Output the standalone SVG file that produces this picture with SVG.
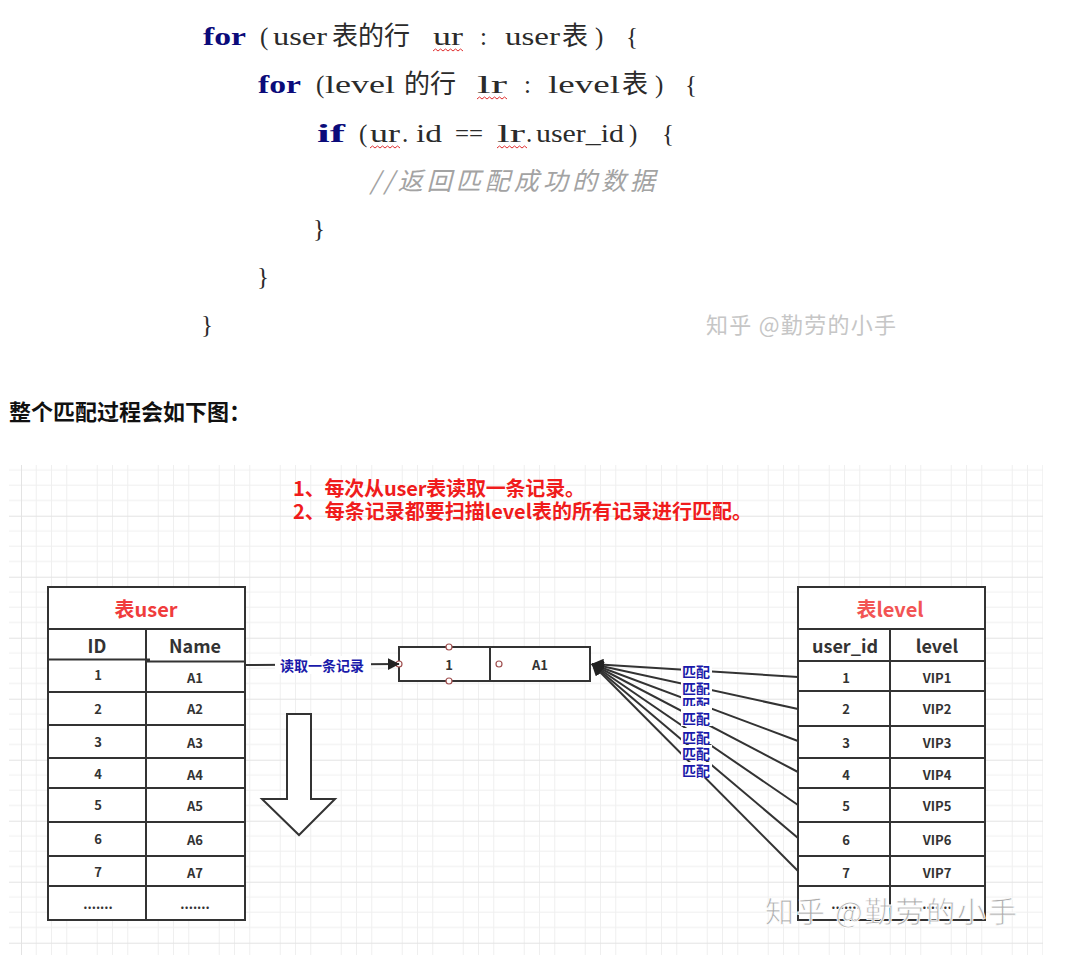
<svg xmlns="http://www.w3.org/2000/svg" width="1080" height="959" viewBox="0 0 1080 959">
<style>
.code{font-family:"Liberation Serif","Noto Sans CJK SC",serif;font-size:25px;fill:#2b2b2b}
.kw{font-weight:bold;fill:#0b0b7a}
.cjk{font-family:"Noto Sans CJK SC",sans-serif;font-size:26px;fill:#2b2b2b}
.cmt{font-family:"Noto Sans CJK SC",sans-serif;font-size:25px;font-style:italic;fill:#a3a3a3}
.wavy{fill:none;stroke:#e03030;stroke-width:1}
.sans{font-family:"Noto Sans CJK SC","Noto Sans",sans-serif}
.tbl{fill:none;stroke:#333;stroke-width:2}
.ttl{font-family:"Noto Sans CJK SC",sans-serif;font-size:20px;font-weight:bold;fill:#f03c3c;text-anchor:middle;dominant-baseline:central}
.hdr{font-family:"Noto Sans CJK SC",sans-serif;font-size:18px;font-weight:bold;fill:#333;text-anchor:middle;dominant-baseline:central}
.cell{font-family:"Noto Sans CJK SC",sans-serif;font-size:13px;font-weight:bold;fill:#333;text-anchor:middle;dominant-baseline:central}
.lbl{font-family:"Noto Sans CJK SC",sans-serif;font-size:14px;font-weight:bold;fill:#1a1aaa;text-anchor:middle;dominant-baseline:central}
.conn{fill:none;stroke:#333;stroke-width:2}
.pt{fill:#fff;stroke:#a05050;stroke-width:1.2}
</style>
<defs>
<pattern id="grid" patternUnits="userSpaceOnUse" x="21" y="454.7" width="61" height="61">
<path d="M15.25 0V61M30.5 0V61M45.75 0V61M0 15.25H61M0 30.5H61M0 45.75H61" stroke="#efefef" stroke-width="1" fill="none"/>
<path d="M0.5 0V61M0 0.5H61" stroke="#e3e3e3" stroke-width="1" fill="none"/>
</pattern>
<marker id="arr" viewBox="0 0 10 10" markerWidth="12" markerHeight="12" refX="9.5" refY="5" orient="auto" markerUnits="userSpaceOnUse">
<path d="M0,0 L10,5 L0,10 z" fill="#222"/>
</marker>
</defs>
<rect width="1080" height="959" fill="#fff"/>

<g id="code">
<text class="code kw" x="203" y="45" textLength="43" lengthAdjust="spacingAndGlyphs">for</text>
<text class="code" x="260" y="45">(</text>
<text class="code" x="273" y="45" textLength="54" lengthAdjust="spacingAndGlyphs">user</text>
<text class="cjk" x="332" y="45">表的行</text>
<text class="code" x="433" y="45" textLength="30" lengthAdjust="spacingAndGlyphs">ur</text>
<text class="code" x="480" y="45">:</text>
<text class="code" x="505" y="45" textLength="55" lengthAdjust="spacingAndGlyphs">user</text>
<text class="cjk" x="562" y="45">表</text>
<text class="code" x="595" y="45">)</text>
<text class="code" x="626" y="45">{</text>
<path class="wavy" d="M433 51l2.5 -2l2.5 2l2.5 -2l2.5 2l2.5 -2l2.5 2l2.5 -2l2.5 2l2.5 -2l2.5 2l2.5 -2l2.5 2"/>

<text class="code kw" x="258" y="93" textLength="43" lengthAdjust="spacingAndGlyphs">for</text>
<text class="code" x="316" y="93">(</text>
<text class="code" x="325" y="93" textLength="70" lengthAdjust="spacingAndGlyphs">level</text>
<text class="cjk" x="404" y="93">的行</text>
<text class="code" x="477" y="93" textLength="30" lengthAdjust="spacingAndGlyphs">lr</text>
<text class="code" x="524" y="93">:</text>
<text class="code" x="548" y="93" textLength="72" lengthAdjust="spacingAndGlyphs">level</text>
<text class="cjk" x="622" y="93">表</text>
<text class="code" x="655" y="93">)</text>
<text class="code" x="685" y="93">{</text>
<path class="wavy" d="M477 99l2.5 -2l2.5 2l2.5 -2l2.5 2l2.5 -2l2.5 2l2.5 -2l2.5 2l2.5 -2l2.5 2l2.5 -2l2.5 2"/>

<text class="code kw" x="317" y="142" textLength="28" lengthAdjust="spacingAndGlyphs">if</text>
<text class="code" x="359" y="142">(</text>
<text class="code" x="370" y="142" textLength="30" lengthAdjust="spacingAndGlyphs">ur</text>
<text class="code" x="402" y="142">.</text>
<text class="code" x="416" y="142" textLength="26" lengthAdjust="spacingAndGlyphs">id</text>
<text class="code" x="455" y="142" textLength="28" lengthAdjust="spacingAndGlyphs">==</text>
<text class="code" x="497" y="142" textLength="28" lengthAdjust="spacingAndGlyphs">lr</text>
<text class="code" x="526" y="142">.</text>
<text class="code" x="536" y="142" textLength="88" lengthAdjust="spacingAndGlyphs">user_id</text>
<text class="code" x="629" y="142">)</text>
<text class="code" x="662" y="142">{</text>
<path class="wavy" d="M370 148l2.5 -2l2.5 2l2.5 -2l2.5 2l2.5 -2l2.5 2l2.5 -2l2.5 2l2.5 -2l2.5 2l2.5 -2l2.5 2"/>
<path class="wavy" d="M497 148l2.5 -2l2.5 2l2.5 -2l2.5 2l2.5 -2l2.5 2l2.5 -2l2.5 2l2.5 -2l2.5 2l2.5 -2l2.5 2"/>

<text class="cmt" x="370" y="190" textLength="285">//返回匹配成功的数据</text>
<text class="code" x="313" y="237">}</text>
<text class="code" x="257" y="285">}</text>
<text class="code" x="201" y="333">}</text>
</g>

<g id="watermark-top">
<text class="sans" x="706" y="333" font-size="22" fill="#c6c6c6" textLength="190">知乎 @勤劳的小手</text>
</g>

<g id="heading">
<text class="sans" x="9" y="420" font-size="22" font-weight="bold" fill="#111">整个匹配过程会如下图：</text>
</g>

<rect id="grid-bg" x="9" y="465" width="1034" height="490" fill="url(#grid)"/>

<g id="notes">
<text class="sans" x="293" y="496" font-size="20" font-weight="bold" fill="#f01c1c" textLength="292">1、每次从user表读取一条记录。</text>
<text class="sans" x="293" y="519" font-size="20" font-weight="bold" fill="#f01c1c" textLength="459">2、每条记录都要扫描level表的所有记录进行匹配。</text>
</g>

<g id="table-user">
<rect x="48" y="587" width="197" height="333" fill="#fff"/>
<path class="tbl" d="M48 587H245V920H48Z M48 629H245 M48 659.5H150 M146 661.5H245 M48 692H245 M48 725H245 M48 758H245 M48 788H245 M48 822H245 M48 856H245 M48 886H245 M146 629V920"/>
<text class="ttl" x="146" y="608">表user</text>
<text class="hdr" x="97" y="645">ID</text>
<text class="hdr" x="195" y="645">Name</text>
<text class="cell" x="98" y="674">1</text><text class="cell" x="195" y="677">A1</text>
<text class="cell" x="98" y="708">2</text><text class="cell" x="195" y="708">A2</text>
<text class="cell" x="98" y="741">3</text><text class="cell" x="195" y="742">A3</text>
<text class="cell" x="98" y="773">4</text><text class="cell" x="195" y="774">A4</text>
<text class="cell" x="98" y="804">5</text><text class="cell" x="195" y="805">A5</text>
<text class="cell" x="98" y="838">6</text><text class="cell" x="195" y="839">A6</text>
<text class="cell" x="98" y="871">7</text><text class="cell" x="195" y="872">A7</text>
<text class="cell" x="98" y="903">.......</text><text class="cell" x="195" y="903">.......</text>
</g>

<g id="down-arrow">
<polygon points="287,714 311,714 311,799 335,799 299,835 262,799 287,799" fill="#fff" stroke="#333" stroke-width="2"/>
</g>

<g id="record">
<rect x="399" y="647" width="191" height="34" fill="#fff"/>
<path class="tbl" d="M399 647H590V681H399Z M490 647V681"/>
<text class="cell" x="449" y="664" font-size="14">1</text>
<text class="cell" x="540" y="664" font-size="14">A1</text>
<circle class="pt" cx="399" cy="664" r="3"/>
<circle class="pt" cx="449" cy="647" r="3"/>
<circle class="pt" cx="449" cy="681" r="3"/>
<circle class="pt" cx="499" cy="664" r="3"/>
</g>

<g id="table-level">
<rect x="798" y="587" width="187" height="333" fill="#fff"/>
<path class="tbl" d="M798 587H985V920H798Z M798 629H985 M798 661H985 M798 691H985 M798 726H985 M798 758H985 M798 788H985 M798 822H985 M798 856H985 M798 886H985 M890 629V920"/>
<text class="ttl" x="890" y="608" style="fill:#f25454">表level</text>
<text class="hdr" x="845" y="645">user_id</text>
<text class="hdr" x="937" y="645">level</text>
<text class="cell" x="846" y="677">1</text><text class="cell" x="937" y="677">VIP1</text>
<text class="cell" x="846" y="708">2</text><text class="cell" x="937" y="708">VIP2</text>
<text class="cell" x="846" y="742">3</text><text class="cell" x="937" y="742">VIP3</text>
<text class="cell" x="846" y="774">4</text><text class="cell" x="937" y="774">VIP4</text>
<text class="cell" x="846" y="805">5</text><text class="cell" x="937" y="805">VIP5</text>
<text class="cell" x="846" y="839">6</text><text class="cell" x="937" y="839">VIP6</text>
<text class="cell" x="846" y="872">7</text><text class="cell" x="937" y="872">VIP7</text>
<text class="cell" x="846" y="903">.......</text><text class="cell" x="937" y="903">.......</text>
</g>

<g id="connectors">
<line class="conn" x1="245" y1="665" x2="399" y2="664" marker-end="url(#arr)"/>
<rect x="275" y="656" width="96" height="18" fill="#fff"/>
<text class="lbl" x="322" y="665" font-size="15">读取一条记录</text>

<line class="conn" x1="798" y1="677" x2="592" y2="664" marker-end="url(#arr)"/>
<line class="conn" x1="798" y1="709" x2="592" y2="664" marker-end="url(#arr)"/>
<line class="conn" x1="798" y1="741" x2="592" y2="664" marker-end="url(#arr)"/>
<line class="conn" x1="798" y1="772" x2="592" y2="664" marker-end="url(#arr)"/>
<line class="conn" x1="798" y1="805" x2="592" y2="664" marker-end="url(#arr)"/>
<line class="conn" x1="798" y1="838" x2="592" y2="664" marker-end="url(#arr)"/>
<line class="conn" x1="798" y1="871" x2="592" y2="664" marker-end="url(#arr)"/>

<rect x="681" y="663" width="31" height="16" fill="#fff"/>
<text class="lbl" x="696" y="671">匹配</text>
<rect x="681" y="679" width="31" height="16" fill="#fff"/>
<text class="lbl" x="696" y="688">匹配</text>
<rect x="681" y="695" width="31" height="11" fill="#fff"/>
<text class="lbl" x="696" y="703">匹配</text>
<rect x="681" y="706" width="31" height="20" fill="#fff"/>
<text class="lbl" x="696" y="718">匹配</text>
<rect x="681" y="728" width="31" height="16" fill="#fff"/>
<text class="lbl" x="696" y="737">匹配</text>
<rect x="681" y="745" width="31" height="15" fill="#fff"/>
<text class="lbl" x="696" y="753">匹配</text>
<rect x="681" y="762" width="31" height="16" fill="#fff"/>
<text class="lbl" x="696" y="770">匹配</text>
</g>

<g id="watermark-bottom">
<text class="sans" x="765" y="923" font-size="29" fill="#adadad" stroke="#fff" stroke-width="0.8" textLength="252">知乎 @勤劳的小手</text>
</g>
</svg>
